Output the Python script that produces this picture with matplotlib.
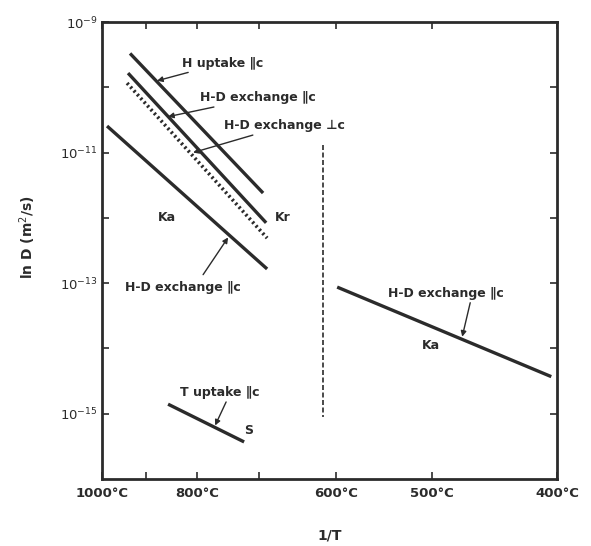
"""
Arrhenius plot of hydrogen diffusivity (ln D vs 1/T).
"""

import matplotlib.pyplot as plt
import numpy as np
from matplotlib.ticker import FixedLocator, NullFormatter

# x values are 1000/T in 1/K, y values are D in m^2/s
h_uptake_par_x = [0.8286, 1.0333]
h_uptake_par_y = [3.3e-10, 2.4e-12]

hd_exch_par_x = [0.8255, 1.0380]
hd_exch_par_y = [1.65e-10, 8.4e-13]

hd_exch_perp_x = [0.8240, 1.0395]
hd_exch_perp_y = [1.16e-10, 4.9e-13]

hd_exch_ka_x = [0.7932, 1.0395]
hd_exch_ka_y = [2.55e-11, 1.65e-13]

hd_exch_low_x = [1.1473, 1.4767]
hd_exch_low_y = [8.7e-14, 3.7e-15]

t_uptake_x = [0.8871, 1.0041]
t_uptake_y = [1.4e-15, 3.7e-16]

divider_x = [1.1257, 1.1257]
divider_y = [1.3e-11, 8.9e-16]

temps_c = [1000, 900, 800, 700, 600, 500, 400]
temp_labels = ["1000°C", "", "800°C", "", "600°C", "500°C", "400°C"]

y_major = [1e-9, 1e-11, 1e-13, 1e-15]
y_major_labels = ["$10^{-9}$", "$10^{-11}$", "$10^{-13}$", "$10^{-15}$"]
y_minor = [1e-10, 1e-12, 1e-14]

INK = "#2b2b2b"

plt.rcParams["font.family"] = ["DejaVu Sans"]
plt.rcParams["mathtext.fontset"] = "dejavusans"

fig = plt.figure(figsize=(5.91, 5.46), dpi=100)
ax = fig.add_axes([0.1726, 0.1227, 0.7699, 0.8370])

line_kw = dict(color=INK, linewidth=2.4, solid_capstyle="butt")
ax.plot(h_uptake_par_x, h_uptake_par_y, **line_kw)
ax.plot(hd_exch_par_x, hd_exch_par_y, **line_kw)
ax.plot(hd_exch_perp_x, hd_exch_perp_y, color=INK, linewidth=2.6,
        linestyle=(0, (0.6, 0.8)))
ax.plot(hd_exch_ka_x, hd_exch_ka_y, **line_kw)
ax.plot(hd_exch_low_x, hd_exch_low_y, **line_kw)
ax.plot(t_uptake_x, t_uptake_y, **line_kw)
ax.plot(divider_x, divider_y, color=INK, linewidth=1.2,
        linestyle=(0, (3, 1.5)))

ax.set_yscale("log")
x_min = 1000.0 / (1000 + 273.15)
x_max = 1000.0 / (400 + 273.15)
ax.set_xlim(x_min, x_max)
ax.set_ylim(1e-16, 1e-9)

tick_x = [1000.0 / (t + 273.15) for t in temps_c]
ax.xaxis.set_major_locator(FixedLocator(tick_x))
ax.set_xticklabels(temp_labels)
ax.xaxis.set_minor_locator(FixedLocator([]))

ax.yaxis.set_major_locator(FixedLocator(y_major))
ax.set_yticklabels(y_major_labels)
ax.yaxis.set_minor_locator(FixedLocator(y_minor))
ax.yaxis.set_minor_formatter(NullFormatter())

ax.tick_params(which="both", direction="in", top=True, right=True,
               width=1.2, color=INK, labelcolor=INK)
ax.tick_params(which="major", length=5)
ax.tick_params(which="minor", length=5)
ax.tick_params(axis="x", labelsize=9.5, pad=6)
ax.tick_params(axis="y", labelsize=9.5, pad=3)
for lab in ax.get_xticklabels():
    lab.set_fontweight("bold")

for spine in ax.spines.values():
    spine.set_linewidth(2.0)
    spine.set_color(INK)

ax.set_xlabel("1/T", fontsize=10, fontweight="bold", color=INK)
ax.xaxis.set_label_coords(0.5, -0.108)
ax.set_ylabel("ln D (m$^2$/s)", fontsize=10, fontweight="bold", color=INK)
ax.yaxis.set_label_coords(-0.14, 0.53)

txt_kw = dict(fontsize=9, fontweight="bold", color=INK, va="center")
arrow_kw = dict(arrowstyle="-|>", color=INK, lw=1.0, mutation_scale=8,
                shrinkA=0, shrinkB=0)


def label(text, xy, xytext, ha="left"):
    ax.annotate(text, xy=xy, xytext=xytext, ha=ha, arrowprops=arrow_kw,
                **txt_kw)


label("H uptake ∥c", (0.8702, 10 ** -9.90), (0.9087, 10 ** -9.63))
label("H-D exchange ∥c", (0.8871, 10 ** -10.45), (0.9364, 10 ** -10.16))
label("H-D exchange ⊥c", (0.9256, 10 ** -11.0), (0.9733, 10 ** -10.59))

ax.annotate("", xy=(0.9795, 10 ** -12.30), xytext=(0.9410, 10 ** -12.87),
            arrowprops=arrow_kw)
ax.text(0.8209, 10 ** -13.06, "H-D exchange ∥c", ha="left", **txt_kw)

ax.annotate("", xy=(1.3397, 10 ** -13.82), xytext=(1.3520, 10 ** -13.30),
            arrowprops=arrow_kw)
ax.text(1.2258, 10 ** -13.165, "H-D exchange ∥c", ha="left", **txt_kw)

ax.annotate("", xy=(0.9595, 10 ** -15.18), xytext=(0.9764, 10 ** -14.82),
            arrowprops=arrow_kw)
ax.text(0.9056, 10 ** -14.68, "T uptake ∥c", ha="left", **txt_kw)

ax.text(0.8856, 10 ** -11.99, "Ka", ha="center", **txt_kw)
ax.text(1.0641, 10 ** -11.99, "Kr", ha="center", **txt_kw)
ax.text(1.2913, 10 ** -13.95, "Ka", ha="center", **txt_kw)
ax.text(1.0103, 10 ** -15.25, "S", ha="center", **txt_kw)

fig.savefig("out.png", dpi=100)
plt.close(fig)
